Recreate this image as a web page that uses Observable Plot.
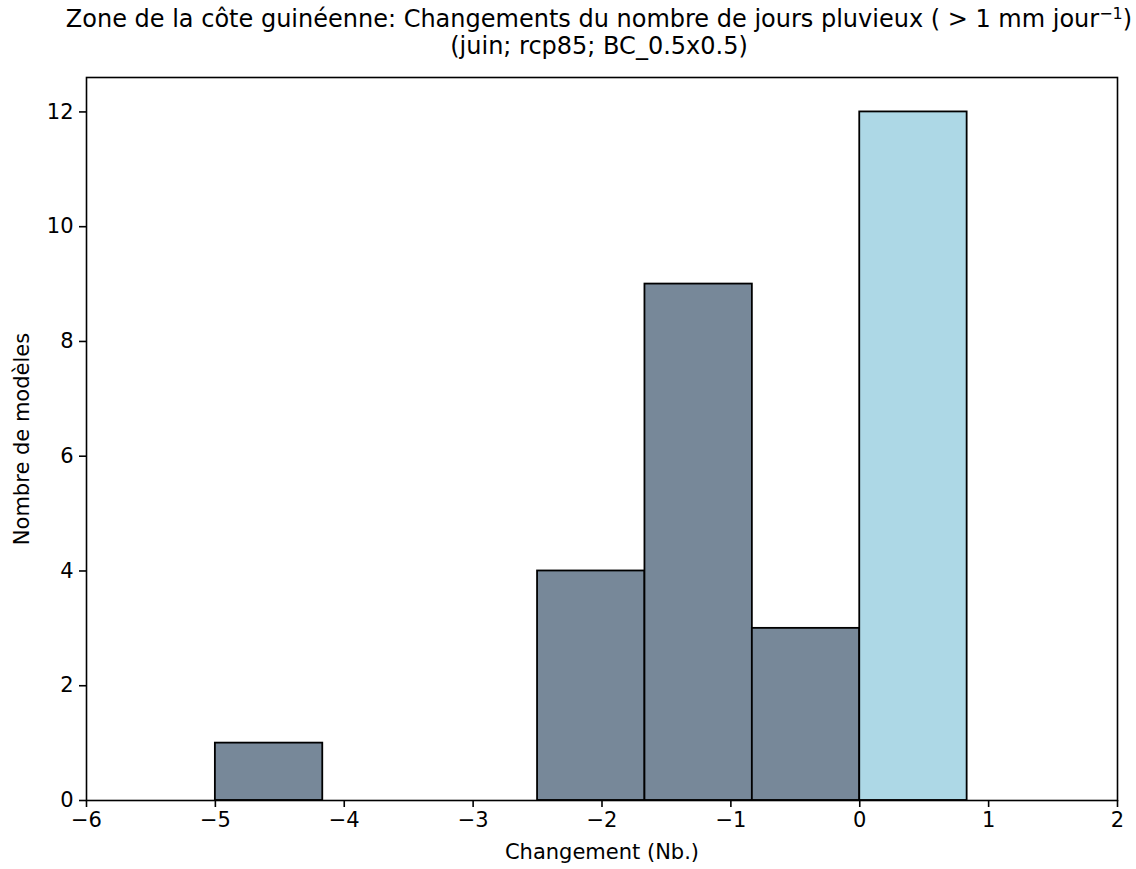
<!DOCTYPE html>
<html>
<head>
<meta charset="utf-8">
<script src="https://cdn.jsdelivr.net/npm/d3@7"></script>
<script src="https://cdn.jsdelivr.net/npm/@observablehq/plot@0.6"></script>
<style>
  html, body { margin: 0; padding: 0; background: #fff; }
  body { width: 1136px; height: 869px; overflow: hidden; font-family: "DejaVu Sans", sans-serif; }
  #title { box-sizing: border-box; width: 1136px; height: 70px; padding-left: 62px; padding-top: 6px;
           text-align: center; font-size: 24px; line-height: 27px; color: #000; white-space: nowrap; }
  #title sup { font-size: 16px; line-height: 0; vertical-align: 0.5em; }
</style>
</head>
<body>
<div id="title">Zone de la côte guinéenne: Changements du nombre de jours pluvieux ( &gt; 1 mm jour<sup>−1</sup>)<br>(juin; rcp85; BC_0.5x0.5)</div>
<div id="chart"></div>
<script>
const binStart = [-5, -4.1667, -3.3333, -2.5, -1.6667, -0.8333, 0];
const binEnd   = [-4.1667, -3.3333, -2.5, -1.6667, -0.8333, 0, 0.8333];
const counts   = [1, 0, 0, 4, 9, 3, 12];
const xTicks = [-6, -5, -4, -3, -2, -1, 0, 1, 2];
const yTicks = [0, 2, 4, 6, 8, 10, 12];

const bins = binStart.map((s, i) => ({x1: s, x2: binEnd[i], y: counts[i], pos: s >= 0}));
const fmt = d => d < 0 ? "\u2212" + Math.abs(d) : String(d);

const chart = Plot.plot({
  width: 1136,
  height: 799,
  marginTop: 7,
  marginLeft: 86,
  marginRight: 19,
  marginBottom: 69,
  style: {fontFamily: "DejaVu Sans, sans-serif", fontSize: "21px", color: "#000", background: "#fff"},
  x: {domain: [-6, 2]},
  y: {domain: [0, 12.6]},
  marks: [
    Plot.rectY(bins, {x1: "x1", x2: "x2", y: "y", fill: d => d.pos ? "#ADD8E6" : "#778899", stroke: "#000", strokeWidth: 1.8}),
    Plot.frame({stroke: "#000", strokeWidth: 1.6}),
    Plot.axisX({ticks: xTicks, tickFormat: fmt, tickSize: 7, tickPadding: 5, fontSize: 21, strokeWidth: 1.6, label: null}),
    Plot.axisY({ticks: yTicks, tickFormat: fmt, tickSize: 7, tickPadding: 6, fontSize: 21, strokeWidth: 1.6, label: null}),
    Plot.text(["Changement (Nb.)"], {frameAnchor: "bottom", dy: 52, fontSize: 21, lineAnchor: "middle"}),
    Plot.text(["Nombre de modèles"], {frameAnchor: "left", dx: -64, rotate: -90, textAnchor: "middle", fontSize: 21, lineAnchor: "middle"})
  ]
});
document.getElementById("chart").appendChild(chart);
</script>
</body>
</html>
